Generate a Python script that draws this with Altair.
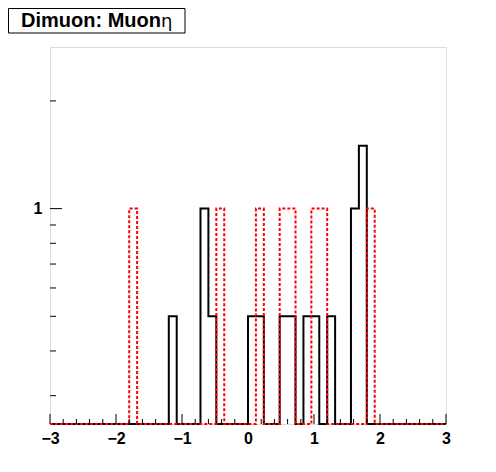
import altair as alt
import pandas as pd

# Histogram definition (ROOT-style TH1, 50 bins on [-3, 3])
x_min, x_max, n_bins = -3.0, 3.0, 50

black_counts = [
    0, 0, 0, 0, 0, 0, 0, 0, 0, 0,
    0, 0, 0, 0, 0, 0.5, 0, 0, 0, 1,
    0.5, 0, 0, 0, 0, 0.5, 0.5, 0, 0, 0.5,
    0.5, 0, 0.5, 0.5, 0, 0.5, 0, 0, 1, 1.5,
    0, 0, 0, 0, 0, 0, 0, 0, 0, 0,
]
red_counts = [
    0, 0, 0, 0, 0, 0, 0, 0, 0, 0,
    1, 0, 0, 0, 0, 0, 0, 0, 0, 0,
    0, 1, 0, 0, 0, 0, 1, 0, 0, 1,
    1, 0, 0, 1, 1, 0, 0, 0, 0, 0,
    1, 0, 0, 0, 0, 0, 0, 0, 0, 0,
]

y_lo, y_hi = 0.25, 2.83
x_labels = [-3, -2, -1, 0, 1, 2, 3]
x_minor_ticks = [round(-3 + 0.2 * k, 1) for k in range(31) if (k % 5) != 0]
y_major_ticks = [1]
y_minor_ticks = [0.3, 0.4, 0.5, 0.6, 0.7, 0.8, 0.9, 2]
title_main = "Dimuon: Muon"
title_sym = "η"

W, H = 396, 377
FONT = "Liberation Sans"


def step_frame(counts):
    w = (x_max - x_min) / n_bins
    rows = []
    for i in range(n_bins + 1):
        rows.append({"x": x_min + i * w, "y": counts[min(i, n_bins - 1)]})
    return pd.DataFrame(rows)


xs = alt.Scale(domain=[x_min, x_max], nice=False, zero=False)
ys = alt.Scale(type="log", domain=[y_lo, y_hi], nice=False)

black = (
    alt.Chart(step_frame(black_counts))
    .transform_calculate(yp=f"max(datum.y, {y_lo})")
    .mark_line(interpolate="step-after", color="black", strokeWidth=2)
    .encode(
        x=alt.X("x:Q", scale=xs, axis=alt.Axis(
            values=x_labels, format="d", title=None, ticks=False, domain=False,
            grid=False, labelFont=FONT, labelFontSize=16, labelFontWeight="bold",
            labelColor="black", labelPadding=6, labelFlush=False)),
        y=alt.Y("yp:Q", scale=ys, axis=alt.Axis(
            values=y_major_ticks, format="~g", title=None, ticks=False, domain=False,
            grid=False, labelFont=FONT, labelFontSize=16, labelFontWeight="bold",
            labelColor="black", labelPadding=8)),
    )
)

red = (
    alt.Chart(step_frame(red_counts))
    .transform_calculate(yp=f"max(datum.y, {y_lo})")
    .mark_line(interpolate="step-after", color="#ff0000", strokeWidth=2,
               strokeDash=[3, 2])
    .encode(x=alt.X("x:Q", scale=xs), y=alt.Y("yp:Q", scale=ys))
)

xmaj = (
    alt.Chart(pd.DataFrame({"x": x_labels}))
    .mark_rule(color="black", strokeWidth=1)
    .encode(x=alt.X("x:Q", scale=xs), y=alt.value(H), y2=alt.value(H - 10))
)
xmin_ = (
    alt.Chart(pd.DataFrame({"x": x_minor_ticks}))
    .mark_rule(color="black", strokeWidth=1)
    .encode(x=alt.X("x:Q", scale=xs), y=alt.value(H), y2=alt.value(H - 5))
)
ymaj = (
    alt.Chart(pd.DataFrame({"yp": y_major_ticks}))
    .mark_rule(color="black", strokeWidth=1)
    .encode(y=alt.Y("yp:Q", scale=ys), x=alt.value(0), x2=alt.value(12))
)
ymin_ = (
    alt.Chart(pd.DataFrame({"yp": y_minor_ticks}))
    .mark_rule(color="black", strokeWidth=1)
    .encode(y=alt.Y("yp:Q", scale=ys), x=alt.value(0), x2=alt.value(6))
)

one = pd.DataFrame({"k": [0]})
box = (
    alt.Chart(one)
    .mark_rect(fill="white", stroke="black", strokeWidth=1)
    .encode(x=alt.value(-41.5), x2=alt.value(135), y=alt.value(-38.5), y2=alt.value(-14))
)
t1 = (
    alt.Chart(one)
    .mark_text(text=title_main, font=FONT, fontSize=20, fontWeight="bold",
               align="right", baseline="middle", color="black")
    .encode(x=alt.value(111), y=alt.value(-26))
)
t2 = (
    alt.Chart(one)
    .mark_text(text=title_sym, font="DejaVu Sans", fontSize=18, fontWeight="normal",
               align="left", baseline="middle", color="black")
    .encode(x=alt.value(111), y=alt.value(-25))
)

chart = (
    alt.layer(black, red, xmaj, xmin_, ymaj, ymin_, box, t1, t2)
    .properties(
        width=W, height=H,
        autosize=alt.AutoSizeParams(type="none"),
        padding={"left": 42, "top": 39, "right": 30, "bottom": 30},
    )
    .configure_view(stroke="black", strokeWidth=1)
    .configure(background="white")
)

chart.save("out.html", embed_options={"renderer": "svg", "actions": False})
